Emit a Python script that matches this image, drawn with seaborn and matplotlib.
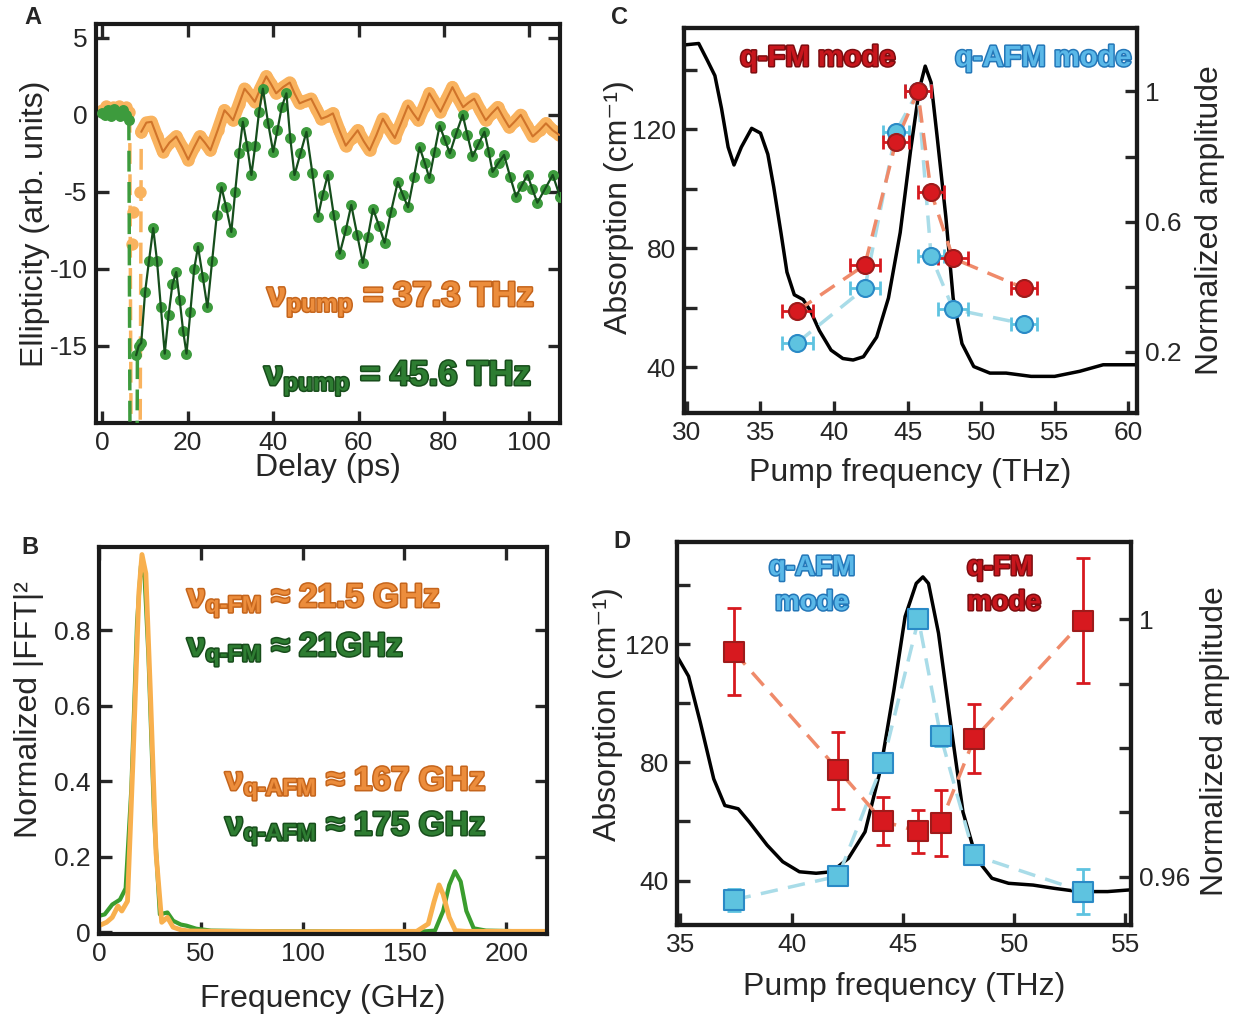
import matplotlib
matplotlib.use("Agg")
import matplotlib.pyplot as plt
import matplotlib.patheffects as pe
import seaborn as sns

# ---------------- Panel A: ellipticity vs delay ----------------
orange_pre_t = [0, 0.8, 1.6, 2.4, 3.2, 4.0, 4.8, 5.6, 6.3]
orange_pre_y = [0.3, 0.6, 0.2, 0.5, 0.4, 0.6, 0.3, 0.5, 0.2]
orange_spike_t = [6.4, 7.0, 8.6, 9.1]
orange_spike_y = [0.2, -40, -40, -1.1]
orange_jump_t = [6.9, 7.1, 8.7]
orange_jump_y = [-8.4, -6.3, -5.0]
orange_t = [9.1, 10.3, 11.5, 12.8, 14.2, 15.7, 17.3, 18.7, 20.1, 21.5, 22.8, 24.0,
            25.3, 27.0, 28.6, 29.6, 30.6, 32.0, 33.3, 34.5, 35.7, 37.0, 38.4, 39.5,
            40.7, 42.3, 43.9, 45.0, 46.2, 47.5, 48.9, 50.1, 51.3, 52.7, 54.0, 55.5,
            57.0, 58.4, 59.8, 61.2, 62.6, 64.2, 65.7, 67.1, 68.5, 70.0, 71.6, 72.8,
            74.0, 75.3, 76.6, 77.9, 79.2, 80.6, 82.0, 83.3, 84.5, 85.8, 87.1, 88.5,
            89.8, 91.2, 92.6, 94.0, 95.3, 96.7, 98.0, 99.4, 100.8, 102.4, 103.9,
            105.5, 107.0]
orange_y = [-1.1, -0.5, -0.45, -1.4, -2.4, -1.8, -1.4, -2.1, -2.9, -2.1, -1.4, -1.8,
            -2.3, -1.0, 0.3, 0.0, -0.35, 0.7, 1.7, 1.3, 0.85, 1.7, 2.5, 2.0,
            1.4, 1.8, 2.1, 1.4, 0.75, 0.9, 1.05, 0.4, -0.25, -0.1, 0.1, -1.0,
            -2.0, -1.5, -1.0, -1.7, -2.3, -1.3, -0.25, -0.9, -1.5, -0.5, 0.6, 0.1,
            -0.35, 0.5, 1.4, 0.8, 0.2, 1.0, 1.8, 1.1, 0.5, 0.8, 1.05, 0.3,
            -0.35, 0.1, 0.5, -0.2, -0.8, -0.4, 0.0, -0.7, -1.4, -1.0, -0.55,
            -1.0, -1.3]

green_pre_t = [0, 0.7, 1.4, 2.1, 2.8, 3.5, 4.2, 4.9, 5.6, 6.2]
green_pre_y = [0.1, 0.0, 0.3, -0.1, 0.4, 0.2, -0.1, 0.3, 0.0, -0.3]
green_spike_t = [6.2, 6.7, 7.9, 8.2]
green_spike_y = [-0.3, -40, -40, -15.6]
green_t = [7.9, 8.5, 9.1, 10.0, 10.9, 11.9, 12.8, 13.7, 14.6, 15.5, 16.4, 17.3, 18.1,
           18.9, 19.7, 20.6, 21.5, 22.4, 23.5, 24.6, 25.7, 26.8, 27.9, 29.0, 30.2,
           31.1, 32.0, 32.9, 33.9, 34.9, 35.8, 36.7, 37.6, 38.8, 40.0, 41.0, 42.0,
           43.1, 44.0, 45.0, 46.4, 47.8, 49.2, 50.5, 51.6, 52.8, 54.2, 55.6, 57.0,
           58.3, 59.7, 61.0, 62.2, 63.4, 64.8, 66.1, 67.6, 69.2, 70.4, 71.6, 73.0,
           74.3, 75.5, 76.6, 77.8, 79.0, 80.2, 81.4, 82.9, 84.4, 85.5, 86.7, 88.1,
           89.5, 90.5, 91.4, 92.8, 94.1, 95.5, 96.9, 98.2, 99.6, 100.7, 101.9,
           103.7, 105.5, 107.2]
green_y = [-15.6, -15.0, -14.8, -11.5, -9.5, -7.35, -9.5, -12.5, -15.5, -13.0, -11.0,
           -10.2, -12.0, -14.0, -15.5, -12.8, -10.0, -8.55, -10.5, -12.5, -9.5, -6.5,
           -4.7, -6.0, -7.6, -5.0, -2.5, -0.45, -2.0, -3.9, -2.0, 0.2, 1.7, -0.5,
           -2.4, -1.0, 0.5, 1.4, -1.5, -3.9, -2.5, -1.1, -3.8, -6.6, -5.2, -3.9,
           -6.5, -9.0, -7.5, -5.85, -7.8, -9.6, -7.9, -6.1, -7.2, -8.3, -6.3, -4.35,
           -5.2, -6.0, -4.0, -2.1, -3.1, -4.1, -2.4, -0.7, -1.6, -2.5, -1.2, 0.0,
           -1.3, -2.7, -1.9, -1.1, -2.4, -3.7, -3.1, -2.6, -4.0, -5.3, -4.6, -3.9,
           -4.8, -5.7, -4.8, -3.9, -5.3]

# ---------------- Panel B: normalized |FFT|^2 ----------------
green_f = [0, 2.8, 6.5, 10.3, 13.1, 15.9, 18.7, 20.6, 22.4, 24.3, 27.1, 29.9, 33.6,
           36.4, 40.2, 43, 47.7, 55, 70, 100, 130, 160, 165, 169, 172, 174.8, 177.6,
           180.4, 184, 190, 220]
green_p = [0.043, 0.047, 0.073, 0.086, 0.116, 0.38, 0.82, 0.97, 0.94, 0.73, 0.30,
           0.047, 0.052, 0.03, 0.02, 0.017, 0.009, 0.004, 0.003, 0.002, 0.002, 0.002,
           0.004, 0.056, 0.125, 0.161, 0.134, 0.056, 0.01, 0.004, 0.001]
orange_f = [0, 3.7, 6.5, 9.3, 11.2, 14, 16.8, 19.6, 21.1, 23, 25.2, 28, 30.8, 33.6,
            36.4, 40.2, 44, 60, 100, 140, 156, 161.7, 164.5, 167, 169, 172, 175, 180, 220]
orange_p = [0.017, 0.026, 0.039, 0.069, 0.056, 0.082, 0.47, 0.9, 1.0, 0.95, 0.64,
            0.21, 0.026, 0.039, 0.013, 0.006, 0.003, 0.002, 0.001, 0.002, 0.002, 0.022,
            0.08, 0.125, 0.1, 0.039, 0.004, 0.002, 0.002]

# ---------------- Panel C: absorption + mode amplitudes ----------------
absC_f = [29.8, 30.8, 31.4, 31.9, 32.35, 32.8, 33.2, 33.7, 34.4, 35.0, 35.5, 35.9,
          36.4, 36.8, 37.3, 37.9, 38.4, 39.0, 39.8, 40.6, 41.3, 42.0, 42.9, 43.7,
          44.5, 45.2, 45.8, 46.2, 46.6, 47.0, 47.6, 48.1, 48.7, 49.5, 50.6, 51.7,
          53.4, 55.0, 56.7, 58.3, 60.6]
absC_a = [148.3, 148.8, 143, 138, 127, 114, 108, 114, 120.3, 118.7, 111.6, 100.6,
          85, 72, 64.4, 62.8, 59, 52.4, 45.8, 43, 42.5, 43.6, 50.2, 63.3,
          85.3, 112.7, 133.5, 141.2, 135.7, 118, 90.7, 63.3, 48, 40.3, 38.1, 38.1,
          37, 37, 38.7, 40.9, 40.9]
pumpC = [37.5, 42.1, 44.2, 45.7, 46.6, 48.1, 52.9]
fmC = [0.326, 0.467, 0.844, 1.0, 0.69, 0.487, 0.396]
afmC = [0.228, 0.396, 0.876, 1.0, 0.494, 0.331, 0.286]
pump_errC = [1.05, 1.0, 0.9, 0.9, 0.9, 1.0, 0.9]

# ---------------- Panel D: absorption + mode amplitudes ----------------
absD_f = [34.85, 35.37, 35.9, 36.5, 37.0, 37.6, 38.1, 38.9, 39.6, 40.35, 41.1, 41.8,
          42.55, 43.3, 44.0, 44.6, 45.1, 45.6, 45.9, 46.15, 46.6, 47.2, 47.7, 48.3,
          49.0, 49.75, 50.85, 51.8, 52.9, 54.2, 55.25]
absD_a = [115.9, 109.1, 93.4, 74.4, 65.4, 64.3, 59.8, 52, 46.4, 43, 42.5, 43,
          47.5, 56.5, 77.8, 104.6, 129.3, 140.5, 142.7, 140.5, 123.7, 90.1, 63.2, 47.5,
          40.8, 39.1, 38.5, 37.4, 36.3, 36.3, 36.9]
pumpD = [37.4, 42.1, 44.1, 45.7, 46.7, 48.2, 53.1]
fmD = [0.99497, 0.97656, 0.96862, 0.96703, 0.96836, 0.98144, 0.99974]
fmD_err = [0.0067, 0.0060, 0.0037, 0.0034, 0.0051, 0.0054, 0.0097]
afmD = [0.95641, 0.96010, 0.97769, 1.0, 0.98180, 0.96333, 0.95769]
afmD_err = [0.0017, 0.0005, 0.0005, 0.0003, 0.0015, 0.0005, 0.0035]

# ---------------- style ----------------
sns.set_style("ticks")
plt.rcParams["font.family"] = ["Liberation Sans", "DejaVu Sans"]
plt.rcParams["axes.unicode_minus"] = False
plt.rcParams["mathtext.fontset"] = "custom"
plt.rcParams["mathtext.rm"] = "Liberation Sans:bold"
plt.rcParams["mathtext.it"] = "Liberation Sans:bold"
plt.rcParams["mathtext.bf"] = "Liberation Sans:bold"

W, H = 1241, 1019
LAB = 23
TICK = 19

ORANGE_DOT = "#f9b35f"
ORANGE_LINE = "#d0742a"
GREEN_DOT = "#3d9b3d"
GREEN_LINE = "#164e1c"
RED = "#d7191f"
RED_EDGE = "#9e1b1b"
BLUE = "#5ec3e0"
BLUE_EDGE = "#2a8ac6"
RED_DASH = "#ef8a6a"
BLUE_DASH = "#a9dce8"


def box(l, t, r, b):
    return [l / W, 1 - b / H, (r - l) / W, (b - t) / H]


def style(ax, **kw):
    for s in ax.spines.values():
        s.set_linewidth(3)
        s.set_color("#1a1a1a")
    ax.tick_params(direction="in", length=9, width=2.4, labelsize=TICK, pad=6, **kw)


def fig_text(x, y, s, fill, edge, size, **kw):
    fig.text(x / W, 1 - y / H, s, color=fill, fontsize=size, fontweight="bold",
             path_effects=[pe.withStroke(linewidth=2.2, foreground=edge)], **kw)


fmt_g = plt.FuncFormatter(lambda v, p: f"{v:g}")

fig = plt.figure(figsize=(W / 100, H / 100), dpi=100)

# ---- A ----
axA = fig.add_axes(box(96, 24, 560, 423))
axA.plot(orange_t, orange_y, color=ORANGE_DOT, lw=9, solid_capstyle="round",
         solid_joinstyle="round", zorder=1)
sns.lineplot(x=orange_spike_t, y=orange_spike_y, ax=axA, estimator=None, sort=False,
             color=ORANGE_DOT, lw=2.5, linestyle=(0, (6, 3)))
sns.scatterplot(x=orange_pre_t + orange_jump_t + orange_t,
                y=orange_pre_y + orange_jump_y + orange_y,
                ax=axA, color=ORANGE_DOT, s=80, linewidth=0, zorder=2)
sns.lineplot(x=orange_t, y=orange_y, ax=axA, estimator=None, sort=False,
             color=ORANGE_LINE, lw=1.5, zorder=3)
sns.lineplot(x=green_spike_t, y=green_spike_y, ax=axA, estimator=None, sort=False,
             color=GREEN_DOT, lw=2.5, linestyle=(0, (6, 3)), zorder=4)
sns.scatterplot(x=green_pre_t + green_t, y=green_pre_y + green_y, ax=axA,
                color=GREEN_DOT, s=62, linewidth=0, zorder=5)
sns.lineplot(x=green_t, y=green_y, ax=axA, estimator=None, sort=False,
             color=GREEN_LINE, lw=1.6, zorder=6)
axA.set_xlim(-1.5, 107.2)
axA.set_ylim(-20, 5.9)
axA.set_xticks([0, 20, 40, 60, 80, 100])
axA.set_yticks([5, 0, -5, -10, -15])
style(axA, top=True, right=True)
axA.set_xlabel("Delay (ps)", fontsize=LAB)
axA.set_ylabel("Ellipticity (arb. units)", fontsize=LAB)
axA.xaxis.set_label_coords(0.5, -0.075)
axA.yaxis.set_label_coords(-0.10, 0.5)

# ---- B ----
axB = fig.add_axes(box(99, 547, 547, 934))
sns.lineplot(x=green_f, y=green_p, ax=axB, estimator=None, sort=False,
             color="#3a9d2e", lw=3)
sns.lineplot(x=orange_f, y=orange_p, ax=axB, estimator=None, sort=False,
             color="#f8b04e", lw=3.5)
axB.set_xlim(0, 220)
axB.set_ylim(-0.005, 1.02)
axB.set_xticks([0, 50, 100, 150, 200])
axB.set_yticks([0, 0.2, 0.4, 0.6, 0.8])
axB.yaxis.set_major_formatter(fmt_g)
style(axB, top=True, right=True)
axB.set_xlabel("Frequency (GHz)", fontsize=LAB)
axB.set_ylabel("Normalized |FFT|²", fontsize=LAB)
axB.xaxis.set_label_coords(0.5, -0.13)
axB.yaxis.set_label_coords(-0.123, 0.58)

# ---- C ----
axC = fig.add_axes(box(684, 28, 1137, 413))
sns.lineplot(x=absC_f, y=absC_a, ax=axC, estimator=None, sort=False,
             color="black", lw=2.5)
axC.set_xlim(29.8, 60.6)
axC.set_ylim(24.7, 154)
axC.set_xticks([30, 35, 40, 45, 50, 55, 60])
axC.set_yticks([40, 60, 80, 100, 120, 140])
axC.set_yticklabels(["40", "", "80", "", "120", ""])
style(axC, top=False, right=False)
axC.set_xlabel("Pump frequency (THz)", fontsize=LAB)
axC.set_ylabel("Absorption (cm⁻¹)", fontsize=LAB)
axC.xaxis.set_label_coords(0.5, -0.117)
axC.yaxis.set_label_coords(-0.11, 0.535)
axC2 = axC.twinx()
sns.lineplot(x=pumpC, y=afmC, ax=axC2, estimator=None, sort=False,
             color=BLUE_DASH, lw=2.5, linestyle=(0, (5, 3)))
sns.lineplot(x=pumpC, y=fmC, ax=axC2, estimator=None, sort=False,
             color=RED_DASH, lw=2.5, linestyle=(0, (5, 3)))
axC2.errorbar(pumpC, afmC, xerr=pump_errC, fmt="none", ecolor=BLUE, elinewidth=2,
              capsize=5, capthick=2)
sns.scatterplot(x=pumpC, y=afmC, ax=axC2, color=BLUE, edgecolor=BLUE_EDGE,
                s=150, linewidth=1.5, marker="o", zorder=5)
axC2.errorbar(pumpC, fmC, xerr=pump_errC, fmt="none", ecolor=RED, elinewidth=2,
              capsize=5, capthick=2)
sns.scatterplot(x=pumpC, y=fmC, ax=axC2, color=RED, edgecolor=RED_EDGE,
                s=150, linewidth=1.5, marker="o", zorder=6)
axC2.set_ylim(0.012, 1.195)
axC2.set_yticks([0.2, 0.4, 0.6, 0.8, 1.0])
axC2.set_yticklabels(["0.2", "", "0.6", "", "1"])
style(axC2, left=False, right=True)
axC2.set_ylabel("Normalized amplitude", fontsize=LAB)
axC2.yaxis.set_label_coords(1.128, 0.5)

# ---- D ----
axD = fig.add_axes(box(677, 542, 1131, 925))
sns.lineplot(x=absD_f, y=absD_a, ax=axD, estimator=None, sort=False,
             color="black", lw=2.5)
axD.set_xlim(34.85, 55.25)
axD.set_ylim(25, 154.5)
axD.set_xticks([35, 40, 45, 50, 55])
axD.set_yticks([40, 60, 80, 100, 120, 140])
axD.set_yticklabels(["40", "", "80", "", "120", ""])
style(axD, top=False, right=False)
axD.set_xlabel("Pump frequency (THz)", fontsize=LAB)
axD.set_ylabel("Absorption (cm⁻¹)", fontsize=LAB)
axD.xaxis.set_label_coords(0.5, -0.123)
axD.yaxis.set_label_coords(-0.118, 0.55)
axD2 = axD.twinx()
sns.lineplot(x=pumpD, y=afmD, ax=axD2, estimator=None, sort=False,
             color=BLUE_DASH, lw=2.5, linestyle=(0, (5, 3)))
sns.lineplot(x=pumpD, y=fmD, ax=axD2, estimator=None, sort=False,
             color=RED_DASH, lw=2.5, linestyle=(0, (5, 3)))
axD2.errorbar(pumpD, afmD, yerr=afmD_err, fmt="none", ecolor=BLUE, elinewidth=2,
              capsize=5, capthick=2)
sns.scatterplot(x=pumpD, y=afmD, ax=axD2, color=BLUE, edgecolor=BLUE_EDGE,
                s=190, linewidth=1.5, marker="s", zorder=5)
axD2.errorbar(pumpD, fmD, yerr=fmD_err, fmt="none", ecolor=RED, elinewidth=2,
              capsize=5, capthick=2)
sns.scatterplot(x=pumpD, y=fmD, ax=axD2, color=RED, edgecolor=RED_EDGE,
                s=190, linewidth=1.5, marker="s", zorder=6)
axD2.set_ylim(0.9525, 1.012)
axD2.set_yticks([0.96, 0.97, 0.98, 0.99, 1.0])
axD2.set_yticklabels(["0.96", "", "", "", "1"])
style(axD2, left=False, right=True)
axD2.set_ylabel("Normalized amplitude", fontsize=LAB)
axD2.yaxis.set_label_coords(1.152, 0.48)

# ---- annotations ----
OR_F, OR_E = "#ec8d3c", "#c5651c"
GR_F, GR_E = "#2e7d32", "#174d1b"
fig_text(267, 306, r"$\nu_{\mathrm{pump}}$ = 37.3 THz", OR_F, OR_E, 25, va="baseline")
fig_text(264, 385, r"$\nu_{\mathrm{pump}}$ = 45.6 THz", GR_F, GR_E, 25, va="baseline")
fig_text(187, 607, r"$\nu_{\mathrm{q‐FM}}$ ≈ 21.5 GHz", OR_F, OR_E, 24, va="baseline")
fig_text(187, 656, r"$\nu_{\mathrm{q‐FM}}$ ≈ 21GHz", GR_F, GR_E, 24, va="baseline")
fig_text(225, 790, r"$\nu_{\mathrm{q‐AFM}}$ ≈ 167 GHz", OR_F, OR_E, 24, va="baseline")
fig_text(225, 835, r"$\nu_{\mathrm{q‐AFM}}$ ≈ 175 GHz", GR_F, GR_E, 24, va="baseline")
fig_text(740, 66, "q-FM mode", "#c8161d", "#7d0d10", 21, va="baseline")
fig_text(955, 66, "q-AFM mode", "#5ab8e8", "#2477b8", 21, va="baseline")
fig_text(812, 575, "q-AFM", "#5ab8e8", "#2477b8", 20, va="baseline", ha="center")
fig_text(812, 610, "mode", "#5ab8e8", "#2477b8", 20, va="baseline", ha="center")
fig_text(1000, 575, "q-FM", "#c8161d", "#7d0d10", 20, va="baseline", ha="center")
fig_text(1004, 610, "mode", "#c8161d", "#7d0d10", 20, va="baseline", ha="center")

for lab, (x, y) in {"A": (33, 18), "B": (30, 548), "C": (620, 17), "D": (622, 542)}.items():
    fig.text(x / W, 1 - y / H, lab, fontsize=17, fontweight="bold", ha="center",
             va="center")

fig.savefig("out.png", dpi=100)
